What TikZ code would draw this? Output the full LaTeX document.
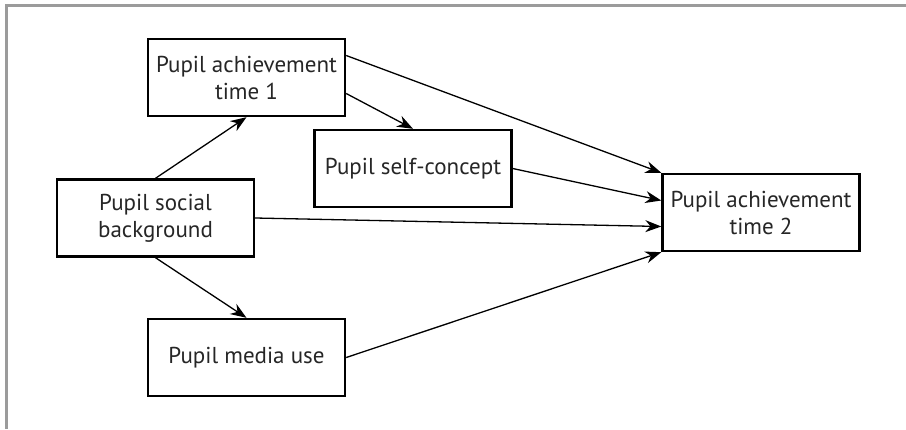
\documentclass[tikz,border=0pt]{standalone}
\usepackage{fontspec}
\setmainfont{PT Sans}
\usetikzlibrary{arrows.meta}

\definecolor{framegray}{RGB}{155,155,155}

\tikzset{
    box/.style={shape=rectangle, draw, line width=1.2pt, minimum width=98.5pt, minimum height=38.5pt, inner sep=0pt, align=center, font=\fontsize{11.5}{13.5}\selectfont, text=black!85},
    link/.style={-{Stealth[length=8pt, width=6pt]}, line width=0.65pt},
}

\begin{document}
\begin{tikzpicture}[x=0.5pt, y=-0.5pt]
        \useasboundingbox (0, 0) rectangle (906, 429);
        % Frame:
        \draw[framegray, line width=1.5pt] (906, 5) -- (6, 5) -- (6, 429);
        % Boxes:
        \node[box] (ach1) at (246.5, 77.5){Pupil achievement\\time 1};
        \node[box] (self) at (413, 168.5){Pupil self-concept};
        \node[box] (social) at (155.5, 218){Pupil social\\background};
        \node[box] (media) at (246.5, 357.5){Pupil media use};
        \node[box] (ach2) at (761, 212.5){Pupil achievement\\time 2};
        % Arrows:
        \draw[link] (social.north) -- (ach1.south);
        \draw[link] (social.south) -- (media.north);
        \draw[link] ([yshift=-8pt]ach1.east) -- (self.north);
        \draw[link] ([yshift=11pt]ach1.east) -- (ach2.north west);
        \draw[link] (self.east) -- ([yshift=6pt]ach2.west);
        \draw[link] (social.east) -- ([yshift=-7pt]ach2.west);
        \draw[link] (media.east) -- (ach2.south west);
    \end{tikzpicture}
\end{document}
